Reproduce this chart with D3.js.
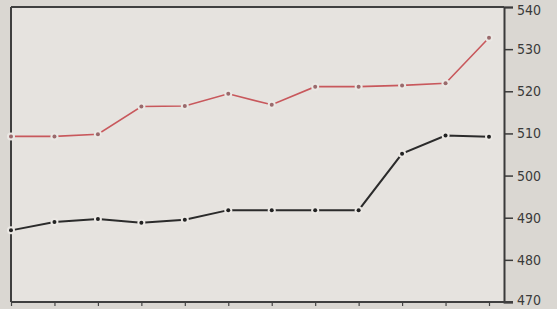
<!DOCTYPE html>
<html>
<head>
<meta charset="utf-8">
<script src="https://cdn.jsdelivr.net/npm/d3@7"></script>
<style>
html,body{margin:0;padding:0;background:#dad7d2;}
svg{display:block;}
</style>
</head>
<body>
<svg id="chart" width="557" height="309"></svg>
<script>
const categories = [1,2,3,4,5,6,7,8,9,10,11,12];
const redSeries  = [509.3, 509.3, 509.8, 516.4, 516.5, 519.4, 516.8, 521.1, 521.1, 521.4, 521.9, 532.7];
const darkSeries = [487.0, 489.0, 489.7, 488.8, 489.5, 491.8, 491.8, 491.8, 491.8, 505.2, 509.5, 509.2];
const yTicks = [470, 480, 490, 500, 510, 520, 530, 540];

const svg = d3.select("#chart");
const pLeft = 11, pRight = 504, pTop = 7, pBottom = 302;

const x = d3.scalePoint().domain(categories).range([pLeft, 489]);
const y = d3.scaleLinear().domain([470, 540]).range([pBottom, pTop]);

// plot background
svg.append("rect").attr("x", pLeft).attr("y", pTop)
  .attr("width", pRight - pLeft).attr("height", pBottom - pTop)
  .attr("fill", "#e6e3df");

// right axis
const yAxis = d3.axisRight(y).tickValues(yTicks).tickSize(9).tickPadding(4).tickFormat(d3.format("d"));
const gy = svg.append("g").attr("transform", `translate(${pRight},0)`).call(yAxis);
gy.select(".domain").attr("stroke", "#3a3a3a").attr("stroke-width", 2);
gy.selectAll(".tick line").attr("stroke", "#3a3a3a").attr("stroke-width", 1.5);
gy.selectAll(".tick text").attr("fill", "#3a3a3a")
  .style("font-family", "'Liberation Sans Narrow','DejaVu Sans Condensed',sans-serif")
  .style("font-size", "14px")
  .attr("dy", d => d === 540 ? "0.5em" : (d === 470 ? "0.2em" : "0.32em"));

// bottom axis
const xAxis = d3.axisBottom(x).tickSize(4).tickFormat("");
const gx = svg.append("g").attr("transform", `translate(0,${pBottom})`).call(xAxis);
gx.select(".domain").remove();
gx.selectAll(".tick line").attr("stroke", "#444").attr("stroke-width", 1.2);

// frame lines
const frame = svg.append("g").attr("stroke", "#3f3f3f").attr("stroke-width", 2).attr("fill", "none");
frame.append("line").attr("x1", pLeft).attr("x2", pRight).attr("y1", pTop).attr("y2", pTop);
frame.append("line").attr("x1", pLeft).attr("x2", pRight + 9).attr("y1", pBottom).attr("y2", pBottom);
frame.append("line").attr("x1", pLeft).attr("x2", pLeft).attr("y1", pTop).attr("y2", pBottom);

function drawSeries(values, color, width, dotColor) {
  const line = d3.line().x((d, i) => x(categories[i])).y(d => y(d));
  svg.append("path").datum(values).attr("d", line)
    .attr("fill", "none").attr("stroke", color).attr("stroke-width", width);
  const g = svg.append("g");
  g.selectAll("circle.halo").data(values).join("circle").attr("class", "halo")
    .attr("cx", (d, i) => x(categories[i])).attr("cy", d => y(d))
    .attr("r", 4).attr("fill", "#ebe8e4");
  g.selectAll("circle.dot").data(values).join("circle").attr("class", "dot")
    .attr("cx", (d, i) => x(categories[i])).attr("cy", d => y(d))
    .attr("r", 2).attr("fill", dotColor);
}
drawSeries(redSeries, "#c8585c", 1.6, "#9a6a6c");
drawSeries(darkSeries, "#2b2b2b", 2, "#222");
</script>
</body>
</html>
